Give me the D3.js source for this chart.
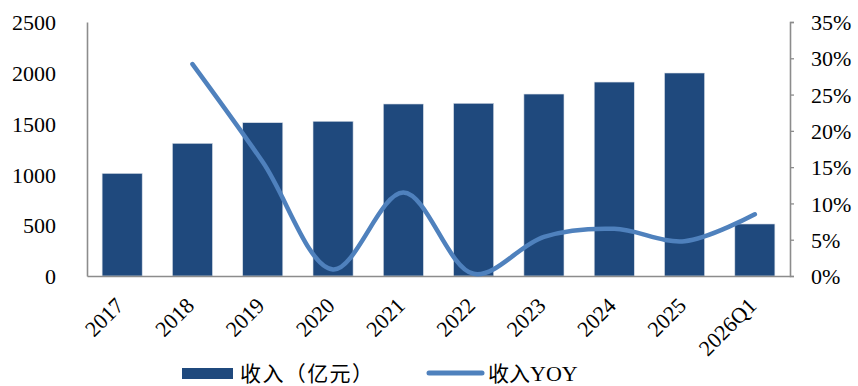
<!DOCTYPE html>
<html><head><meta charset="utf-8">
<script src="https://cdn.jsdelivr.net/npm/d3@7"></script>
<style>body{margin:0;background:#fff}</style>
</head><body><svg id="c" width="858" height="386"></svg>
<script>
const categories = ["2017","2018","2019","2020","2021","2022","2023","2024","2025","2026Q1"];
const revenue = [1010,1306,1509,1523,1693,1700,1791,1909,1998,512];
const yoy = [null,29.2,15.7,0.9,11.5,0.3,5.4,6.5,4.8,8.5];
const leftTicks = [0,500,1000,1500,2000,2500];
const rightTicks = [0,5,10,15,20,25,30,35];
const seriesNames = ["收入（亿元）","收入","YOY"];

const svg = d3.select("#c");
const L=87,R=790,T=22,B=276;
const font = "'Liberation Serif','Times New Roman',serif";
const cjk = "'Noto Sans CJK SC',sans-serif";
const x = d3.scaleBand().domain(categories).range([L,R]).paddingInner(0.43).paddingOuter(0.215);
const y = d3.scaleLinear().domain([0,2500]).range([B,T]);
const y2 = d3.scaleLinear().domain([0,35]).range([B,T]);
const barColor="#1f497d", lineColor="#4f81bd", axisColor="#8c8c8c";

// bars
svg.append("g").selectAll("rect").data(categories).join("rect")
  .attr("x",d=>x(d)).attr("width",x.bandwidth())
  .attr("y",(d,i)=>y(revenue[i])).attr("height",(d,i)=>B-y(revenue[i]))
  .attr("fill",barColor).attr("stroke","#d9dfe8").attr("stroke-width",0.6);

// axes
const gl = svg.append("g").attr("transform",`translate(${L},0)`)
  .call(d3.axisLeft(y).tickValues(leftTicks).tickSize(0).tickPadding(31).tickFormat(d3.format("d")));
const gr = svg.append("g").attr("transform",`translate(${R},0)`)
  .call(d3.axisRight(y2).tickValues(rightTicks).tickSize(4).tickPadding(17).tickFormat(d=>d+"%"));
const gb = svg.append("g").attr("transform",`translate(0,${B})`)
  .call(d3.axisBottom(x).tickSize(0).tickPadding(0));
[gl,gr,gb].forEach(g=>{
  g.select(".domain").attr("stroke",axisColor).attr("stroke-width",1.6);
  g.selectAll(".tick line").attr("stroke",axisColor).attr("stroke-width",1.3);
  g.selectAll("text").attr("font-family",font).attr("font-size",22).attr("fill","#000");
});
gl.selectAll("text").attr("dy","0.35em");
gr.selectAll("text").attr("dy","0.35em");
gb.selectAll(".tick text")
  .attr("text-anchor","end").attr("dy","0")
  .attr("transform","translate(3,31) rotate(-45)");

// line
const pts = categories.map((c,i)=>({c,v:yoy[i]})).filter(p=>p.v!=null);
svg.append("path").datum(pts)
  .attr("d",d3.line().x(p=>x(p.c)+x.bandwidth()/2).y(p=>y2(p.v)).curve(d3.curveCatmullRom.alpha(0.5)))
  .attr("fill","none").attr("stroke",lineColor).attr("stroke-width",4.5).attr("stroke-linecap","round");

// legend
const lg = svg.append("g");
lg.append("rect").attr("x",182).attr("y",368).attr("width",51).attr("height",11).attr("fill",barColor);
lg.append("text").attr("x",240).attr("y",374).attr("dy","0.35em").text(seriesNames[0])
  .attr("font-family",cjk).attr("font-size",21).attr("textLength",133).attr("lengthAdjust","spacing");
lg.append("line").attr("x1",429).attr("x2",482).attr("y1",373).attr("y2",373)
  .attr("stroke",lineColor).attr("stroke-width",5).attr("stroke-linecap","round");
const t2 = lg.append("text").attr("x",488).attr("y",374).attr("dy","0.35em").attr("font-size",21);
t2.append("tspan").attr("font-family",cjk).text(seriesNames[1]);
t2.append("tspan").attr("font-family",font).attr("font-size",22).text(seriesNames[2]);
</script></body></html>
